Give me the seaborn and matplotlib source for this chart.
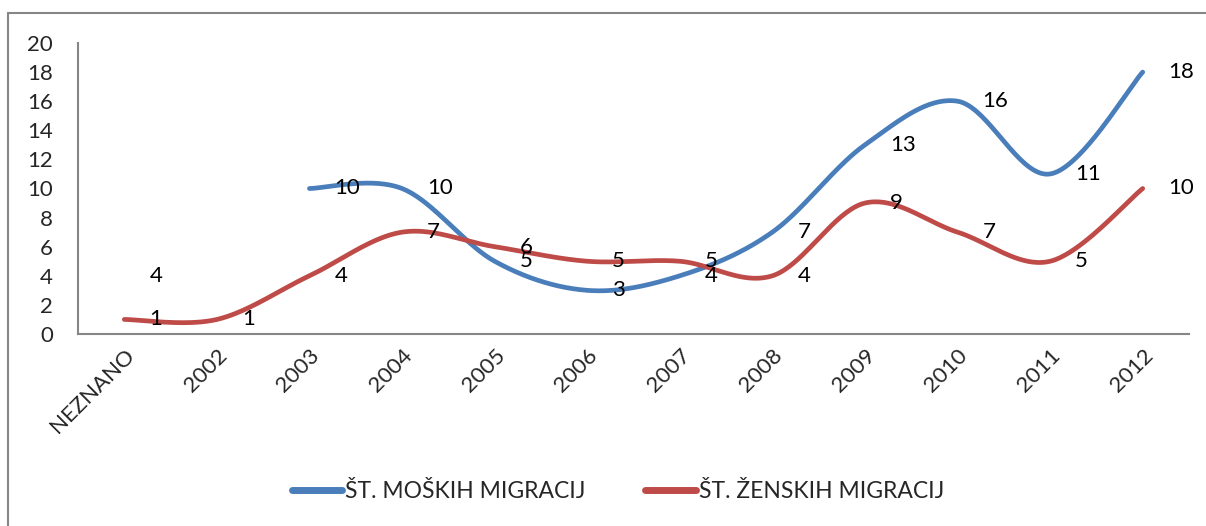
import numpy as np
import pandas as pd
import matplotlib
matplotlib.use("Agg")
import matplotlib.pyplot as plt
import seaborn as sns

# data
categories = ["NEZNANO", "2002", "2003", "2004", "2005", "2006",
              "2007", "2008", "2009", "2010", "2011", "2012"]
moski = [4, None, 10, 10, 5, 3, 4, 7, 13, 16, 11, 18]
zenski = [1, 1, 4, 7, 6, 5, 5, 4, 9, 7, 5, 10]
series_names = ["ŠT. MOŠKIH MIGRACIJ", "ŠT. ŽENSKIH MIGRACIJ"]
colors = ["#4A7EBB", "#BE4B48"]

sns.set_style("white")
plt.rcParams["font.family"] = ["Lato", "DejaVu Sans"]


def smooth_segments(values, n=40):
    """Excel-like smoothed line (cubic bezier through points), split at gaps."""
    segs, cur = [], []
    for i, v in enumerate(values):
        if v is None:
            if cur:
                segs.append(cur)
            cur = []
        else:
            cur.append((i, v))
    if cur:
        segs.append(cur)
    out = []
    for seg in segs:
        if len(seg) < 2:
            continue
        p = np.array(seg, dtype=float)
        xs, ys = [], []
        for k in range(len(p) - 1):
            p0 = p[k - 1] if k > 0 else p[k]
            p1, p2 = p[k], p[k + 1]
            p3 = p[k + 2] if k + 2 < len(p) else p[k + 1]
            c1 = p1 + (p2 - p0) / 6
            c2 = p2 - (p3 - p1) / 6
            t = np.linspace(0, 1, n)[:, None]
            b = ((1 - t) ** 3) * p1 + 3 * ((1 - t) ** 2) * t * c1 \
                + 3 * (1 - t) * t ** 2 * c2 + t ** 3 * p2
            xs.extend(b[:, 0])
            ys.extend(b[:, 1])
        out.append((np.array(xs), np.array(ys)))
    return out


rows = []
for name, vals in zip(series_names, [moski, zenski]):
    for j, (sx, sy) in enumerate(smooth_segments(vals)):
        for x, y in zip(sx, sy):
            rows.append({"x": x, "y": y, "serija": name, "seg": j})
df = pd.DataFrame(rows)

fig = plt.figure(figsize=(12.06, 5.26), dpi=100)
ax = fig.add_axes([78 / 1206, 1 - 334 / 526, (1189 - 78) / 1206, (334 - 43) / 526])

sns.lineplot(data=df, x="x", y="y", hue="serija", units="seg", estimator=None,
             sort=False, palette=colors, linewidth=3.4, ax=ax, legend=False,
             solid_capstyle="round")

# data labels to the right of each point
for vals in [moski, zenski]:
    for i, v in enumerate(vals):
        if v is None:
            continue
        ax.annotate(str(v), (i, v), xytext=(18, 0), textcoords="offset points",
                    ha="left", va="center", fontsize=16, color="black")

ax.set_xlim(-0.5, len(categories) - 0.5)
ax.set_ylim(0, 20)
ax.set_yticks(range(0, 21, 2))
ax.set_xticks(range(len(categories)))
ax.set_xticklabels(categories, rotation=45, ha="right", rotation_mode="anchor")
ax.tick_params(axis="y", length=0, pad=18, labelsize=16)
ax.tick_params(axis="x", length=0, pad=8, labelsize=16)
ax.set_xlabel("")
ax.set_ylabel("")
for side in ["top", "right"]:
    ax.spines[side].set_visible(False)
for side in ["left", "bottom"]:
    ax.spines[side].set_color("#868686")
    ax.spines[side].set_linewidth(1.5)

# legend at the bottom
handles = [plt.Line2D([], [], color=c, lw=5, solid_capstyle="round") for c in colors]
fig.legend(handles, series_names, loc="center", bbox_to_anchor=(618 / 1206, 1 - 492 / 526),
           ncol=2, frameon=False, fontsize=16.5, handlelength=2.2, handletextpad=0.15,
           columnspacing=2.6)

# outer chart border (top and left visible)
fig.add_artist(plt.Line2D([8 / 1206, 1], [1 - 13 / 526, 1 - 13 / 526],
                          color="#868686", lw=1.5, transform=fig.transFigure))
fig.add_artist(plt.Line2D([8 / 1206, 8 / 1206], [0, 1 - 13 / 526],
                          color="#868686", lw=1.5, transform=fig.transFigure))

fig.savefig("out.png", dpi=100)
